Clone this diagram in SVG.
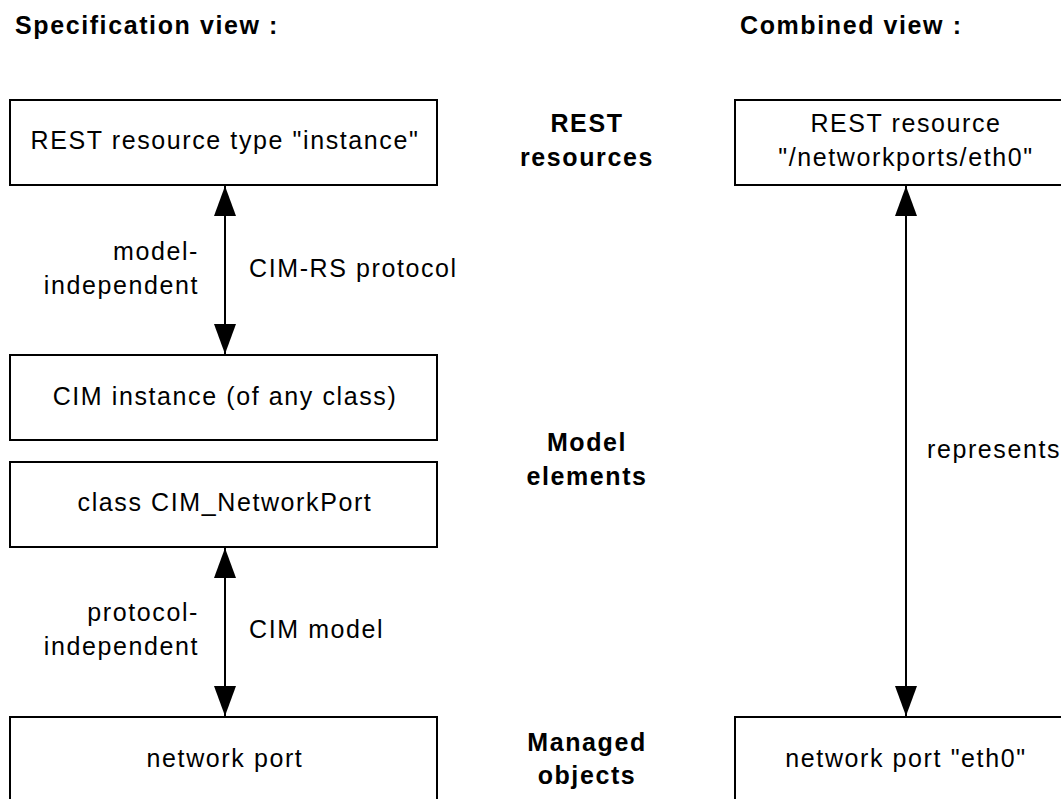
<svg xmlns="http://www.w3.org/2000/svg" width="1061" height="799" viewBox="0 0 1061 799">
  <style>
    .box { fill: #fff; stroke: #000; stroke-width: 2; }
    .t { font-family: "Liberation Sans", Arial, sans-serif; font-size: 25px; letter-spacing: 1.6px; fill: #000; }
    .c { text-anchor: middle; }
    .r { text-anchor: end; }
    .b { font-weight: bold; }
    .conn { stroke: #000; stroke-width: 2; fill: none; marker-start: url(#arrow); marker-end: url(#arrow); }
  </style>
  <defs>
    <marker id="arrow" viewBox="0 0 30 22" refX="30" refY="11" markerWidth="30" markerHeight="22" markerUnits="userSpaceOnUse" orient="auto-start-reverse">
      <path d="M0,0 L30,11 L0,22 Z" fill="#000"/>
    </marker>
  </defs>

  <rect width="1061" height="799" fill="#fff"/>

  <!-- column headings -->
  <text class="t b" x="15" y="34">Specification view :</text>
  <text class="t b" x="740" y="34">Combined view :</text>

  <!-- layer labels -->
  <g id="layer-rest">
    <text class="t b c" x="587" y="132">REST</text>
    <text class="t b c" x="587" y="166">resources</text>
  </g>
  <g id="layer-model">
    <text class="t b c" x="587" y="451">Model</text>
    <text class="t b c" x="587" y="485">elements</text>
  </g>
  <g id="layer-managed">
    <text class="t b c" x="587" y="751">Managed</text>
    <text class="t b c" x="587" y="784">objects</text>
  </g>

  <!-- specification view nodes -->
  <g id="rest-resource-type">
    <rect class="box" x="10" y="100" width="427" height="85"/>
    <text class="t c" x="225" y="149">REST resource type "instance"</text>
  </g>
  <g id="cim-instance">
    <rect class="box" x="10" y="355" width="427" height="85"/>
    <text class="t c" x="225" y="405">CIM instance (of any class)</text>
  </g>
  <g id="class-networkport">
    <rect class="box" x="10" y="462" width="427" height="85"/>
    <text class="t c" x="225" y="511">class CIM_NetworkPort</text>
  </g>
  <g id="network-port">
    <rect class="box" x="10" y="717" width="427" height="100"/>
    <text class="t c" x="225" y="767">network port</text>
  </g>

  <!-- combined view nodes -->
  <g id="rest-resource-eth0">
    <rect class="box" x="735" y="100" width="340" height="85"/>
    <text class="t c" x="906" y="132">REST resource</text>
    <text class="t c" x="906" y="166">"/networkports/eth0"</text>
  </g>
  <g id="network-port-eth0">
    <rect class="box" x="735" y="717" width="340" height="100"/>
    <text class="t c" x="906" y="767">network port "eth0"</text>
  </g>

  <!-- connectors -->
  <g id="connectors">
    <line class="conn" x1="225" y1="186" x2="225" y2="354"/>
    <line class="conn" x1="225" y1="548" x2="225" y2="716"/>
    <line class="conn" x1="906" y1="186" x2="906" y2="716"/>

    <text class="t r" x="199" y="260">model-</text>
    <text class="t r" x="199" y="294">independent</text>
    <text class="t" x="249" y="277">CIM-RS protocol</text>

    <text class="t r" x="199" y="621">protocol-</text>
    <text class="t r" x="199" y="655">independent</text>
    <text class="t" x="249" y="638">CIM model</text>

    <text class="t" x="927" y="458">represents</text>
  </g>
</svg>
